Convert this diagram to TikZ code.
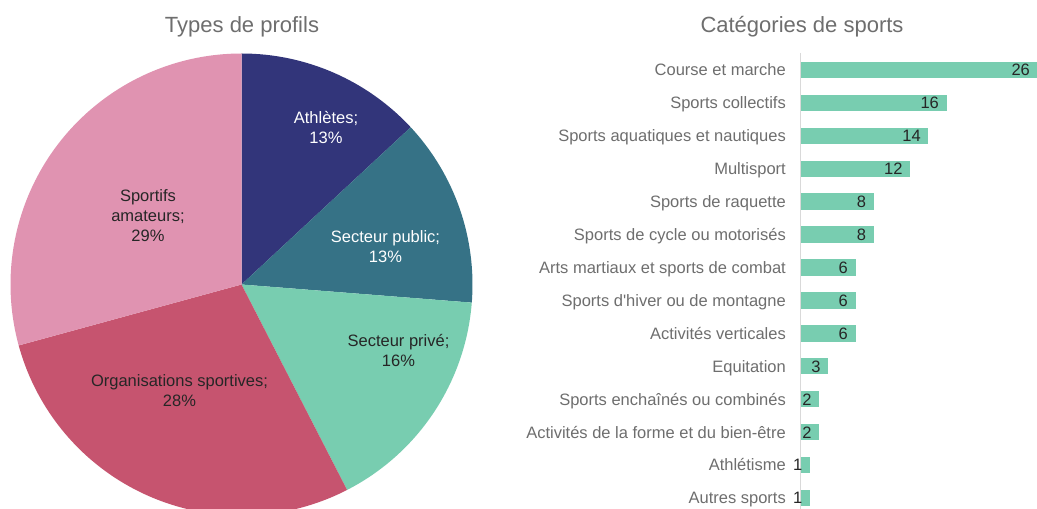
\documentclass[tikz,border=0pt]{standalone}
\usepackage{fontspec}
\setmainfont{Liberation Sans}
\definecolor{cAthl}{HTML}{32357A}
\definecolor{cPub}{HTML}{367286}
\definecolor{cPriv}{HTML}{78CDB0}
\definecolor{cOrga}{HTML}{C6546F}
\definecolor{cAmat}{HTML}{E093B1}
\definecolor{cGray}{HTML}{6E6E6E}
\definecolor{cDark}{HTML}{262626}
\definecolor{cAxis}{HTML}{D9D9D9}
\tikzset{
  charttitle/.style={font=\fontsize{22}{26}\selectfont, text=cGray, inner sep=0pt},
  pielabel/.style={font=\fontsize{16.5}{20}\selectfont, align=center, inner sep=0pt},
  catlabel/.style={font=\fontsize{16.5}{20}\selectfont, text=cGray, anchor=base east, inner sep=0pt},
  vallabel/.style={font=\fontsize{16.5}{20}\selectfont, text=cDark, anchor=base east, inner sep=0pt},
  barbox/.style={fill=cPriv, draw=none},
}
\begin{document}
\begin{tikzpicture}[x=1pt,y=1pt]
\useasboundingbox (0,0) rectangle (1037,509);
\clip (0,0) rectangle (1037,509);
\fill[white] (0,0) rectangle (1037,509);
% ---- Pie chart ----
\coordinate (pc) at (241.5,224.5);
\def\R{231}
\fill[cAthl] (pc) -- ++(90:\R) arc[start angle=90, end angle=42.9, radius=\R] -- cycle;
\fill[cPub]  (pc) -- ++(42.9:\R) arc[start angle=42.9, end angle=-4.5, radius=\R] -- cycle;
\fill[cPriv] (pc) -- ++(-4.5:\R) arc[start angle=-4.5, end angle=-62.8, radius=\R] -- cycle;
\fill[cOrga] (pc) -- ++(-62.8:\R) arc[start angle=-62.8, end angle=-164.7, radius=\R] -- cycle;
\fill[cAmat] (pc) -- ++(-164.7:\R) arc[start angle=-164.7, end angle=-270, radius=\R] -- cycle;
\node[charttitle] (t1) at (242,482) {Types de profils};
\node[pielabel, text=white] (lAthl) at (326,381) {Athlètes;\\13\%};
\node[pielabel, text=white] (lPub) at (385.5,262) {Secteur public;\\13\%};
\node[pielabel, text=cDark] (lPriv) at (398.5,158) {Secteur privé;\\16\%};
\node[pielabel, text=cDark] (lOrga) at (179.5,118) {Organisations sportives;\\28\%};
\node[pielabel, text=cDark] (lAmat) at (148,293) {Sportifs\\amateurs;\\29\%};
% ---- Bar chart ----
\node[charttitle] (t2) at (802,482) {Catégories de sports};
\coordinate (axTop) at (800.5,456);
\coordinate (axBot) at (800.5,0);
\draw[cAxis, line width=0.8pt] (axTop) -- (axBot);
\foreach \i/\v/\lab in {
  0/26/Course et marche,
  1/16/Sports collectifs,
  2/14/Sports aquatiques et nautiques,
  3/12/Multisport,
  4/8/Sports de raquette,
  5/8/Sports de cycle ou motorisés,
  6/6/Arts martiaux et sports de combat,
  7/6/Sports d\textquotesingle hiver ou de montagne,
  8/6/Activités verticales,
  9/3/Equitation,
  10/2/Sports enchaînés ou combinés,
  11/2/Activités de la forme et du bien-être,
  12/1/Athlétisme,
  13/1/Autres sports}{
  \pgfmathsetmacro{\yc}{439-32.92*\i}
  \pgfmathsetmacro{\xe}{801+9.1*\v}
  \fill[barbox] (801,\yc-8.2) rectangle (\xe,\yc+8.2);
  \node[catlabel] (cat\i) at (786,\yc-5.9) {\lab};
  \node[vallabel] (val\i) at (\xe-7.5,\yc-5.9) {\v};
}
\end{tikzpicture}
\end{document}
